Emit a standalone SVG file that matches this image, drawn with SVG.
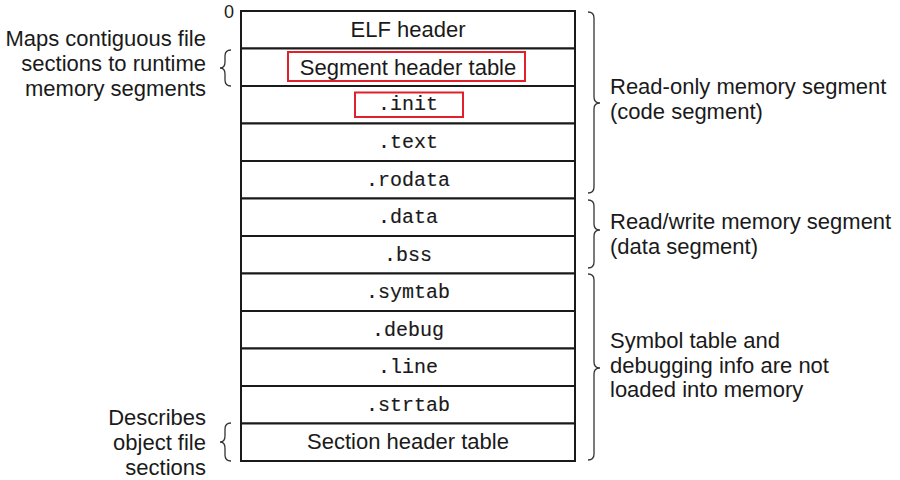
<svg xmlns="http://www.w3.org/2000/svg" width="900" height="480" viewBox="0 0 900 480">
<style>
.cell{fill:#fff;stroke:#1a1a1a;stroke-width:2}
.sans{font-family:"Liberation Sans",Arial,sans-serif;font-size:22px;fill:#1a1a1a}
.mono{font-family:"Liberation Mono","Courier New",monospace;font-size:20px;fill:#1a1a1a;stroke:#1a1a1a;stroke-width:0.15}
.mid{text-anchor:middle}
.end{text-anchor:end}
.hl{fill:none;stroke:#e0202a;stroke-width:2}
.brace{fill:none;stroke:#333;stroke-width:1.3}
</style>
<text class="sans" x="224" y="18" style="font-size:18px">0</text>
<g id="elf-header"><rect class="cell" x="241" y="11" width="334" height="37.5"/><text class="sans mid" x="408" y="37">ELF header</text></g>
<g id="segment-header-table"><rect class="cell" x="241" y="48.5" width="334" height="37.5"/><rect class="hl" x="288" y="52" width="237" height="29"/><text class="sans mid" x="408" y="75">Segment header table</text></g>
<g id="init"><rect class="cell" x="241" y="86" width="334" height="37.5"/><rect class="hl" x="355" y="92.5" width="108" height="24.5"/><text class="mono mid" x="408" y="110">.init</text></g>
<g id="text"><rect class="cell" x="241" y="123.5" width="334" height="37.5"/><text class="mono mid" x="408" y="148">.text</text></g>
<g id="rodata"><rect class="cell" x="241" y="161" width="334" height="37.5"/><text class="mono mid" x="408" y="186">.rodata</text></g>
<g id="data"><rect class="cell" x="241" y="198.5" width="334" height="37.5"/><text class="mono mid" x="408" y="223">.data</text></g>
<g id="bss"><rect class="cell" x="241" y="236" width="334" height="37.5"/><text class="mono mid" x="408" y="261">.bss</text></g>
<g id="symtab"><rect class="cell" x="241" y="273.5" width="334" height="37.5"/><text class="mono mid" x="408" y="298">.symtab</text></g>
<g id="debug"><rect class="cell" x="241" y="311" width="334" height="37.5"/><text class="mono mid" x="408" y="336">.debug</text></g>
<g id="line"><rect class="cell" x="241" y="348.5" width="334" height="37.5"/><text class="mono mid" x="408" y="373">.line</text></g>
<g id="strtab"><rect class="cell" x="241" y="386" width="334" height="37.5"/><text class="mono mid" x="408" y="411">.strtab</text></g>
<g id="section-header-table"><rect class="cell" x="241" y="423.5" width="334" height="37.5"/><text class="sans mid" x="408" y="449">Section header table</text></g>
<g id="connectors">
<path class="brace" d="M231,50 Q225,50 225,56 L225,62 Q225,68 220,68 Q225,68 225,74 L225,80 Q225,86 231,86"/>
<path class="brace" d="M231,423 Q225,423 225,429 L225,436 Q225,442 220,442 Q225,442 225,448 L225,455 Q225,461 231,461"/>
<path class="brace" d="M588,12 Q594,12 594,18 L594,97 Q594,103 600,103 Q594,103 594,109 L594,187 Q594,193 588,193"/>
<path class="brace" d="M588,200 Q594,200 594,206 L594,224 Q594,230 600,230 Q594,230 594,236 L594,262 Q594,268 588,268"/>
<path class="brace" d="M588,274 Q594,274 594,280 L594,362 Q594,368 600,368 Q594,368 594,374 L594,454 Q594,460 588,460"/>
</g>
<g id="labels">
<text class="sans end" x="206" y="46">Maps contiguous file</text>
<text class="sans end" x="206" y="71">sections to runtime</text>
<text class="sans end" x="206" y="96">memory segments</text>
<text class="sans end" x="206" y="425">Describes</text>
<text class="sans end" x="206" y="450">object file</text>
<text class="sans end" x="206" y="475">sections</text>
<text class="sans" x="610" y="94">Read-only memory segment</text>
<text class="sans" x="610" y="119">(code segment)</text>
<text class="sans" x="610" y="229">Read/write memory segment</text>
<text class="sans" x="610" y="254">(data segment)</text>
<text class="sans" x="610" y="348">Symbol table and</text>
<text class="sans" x="610" y="373">debugging info are not</text>
<text class="sans" x="610" y="397">loaded into memory</text>
</g>
</svg>
